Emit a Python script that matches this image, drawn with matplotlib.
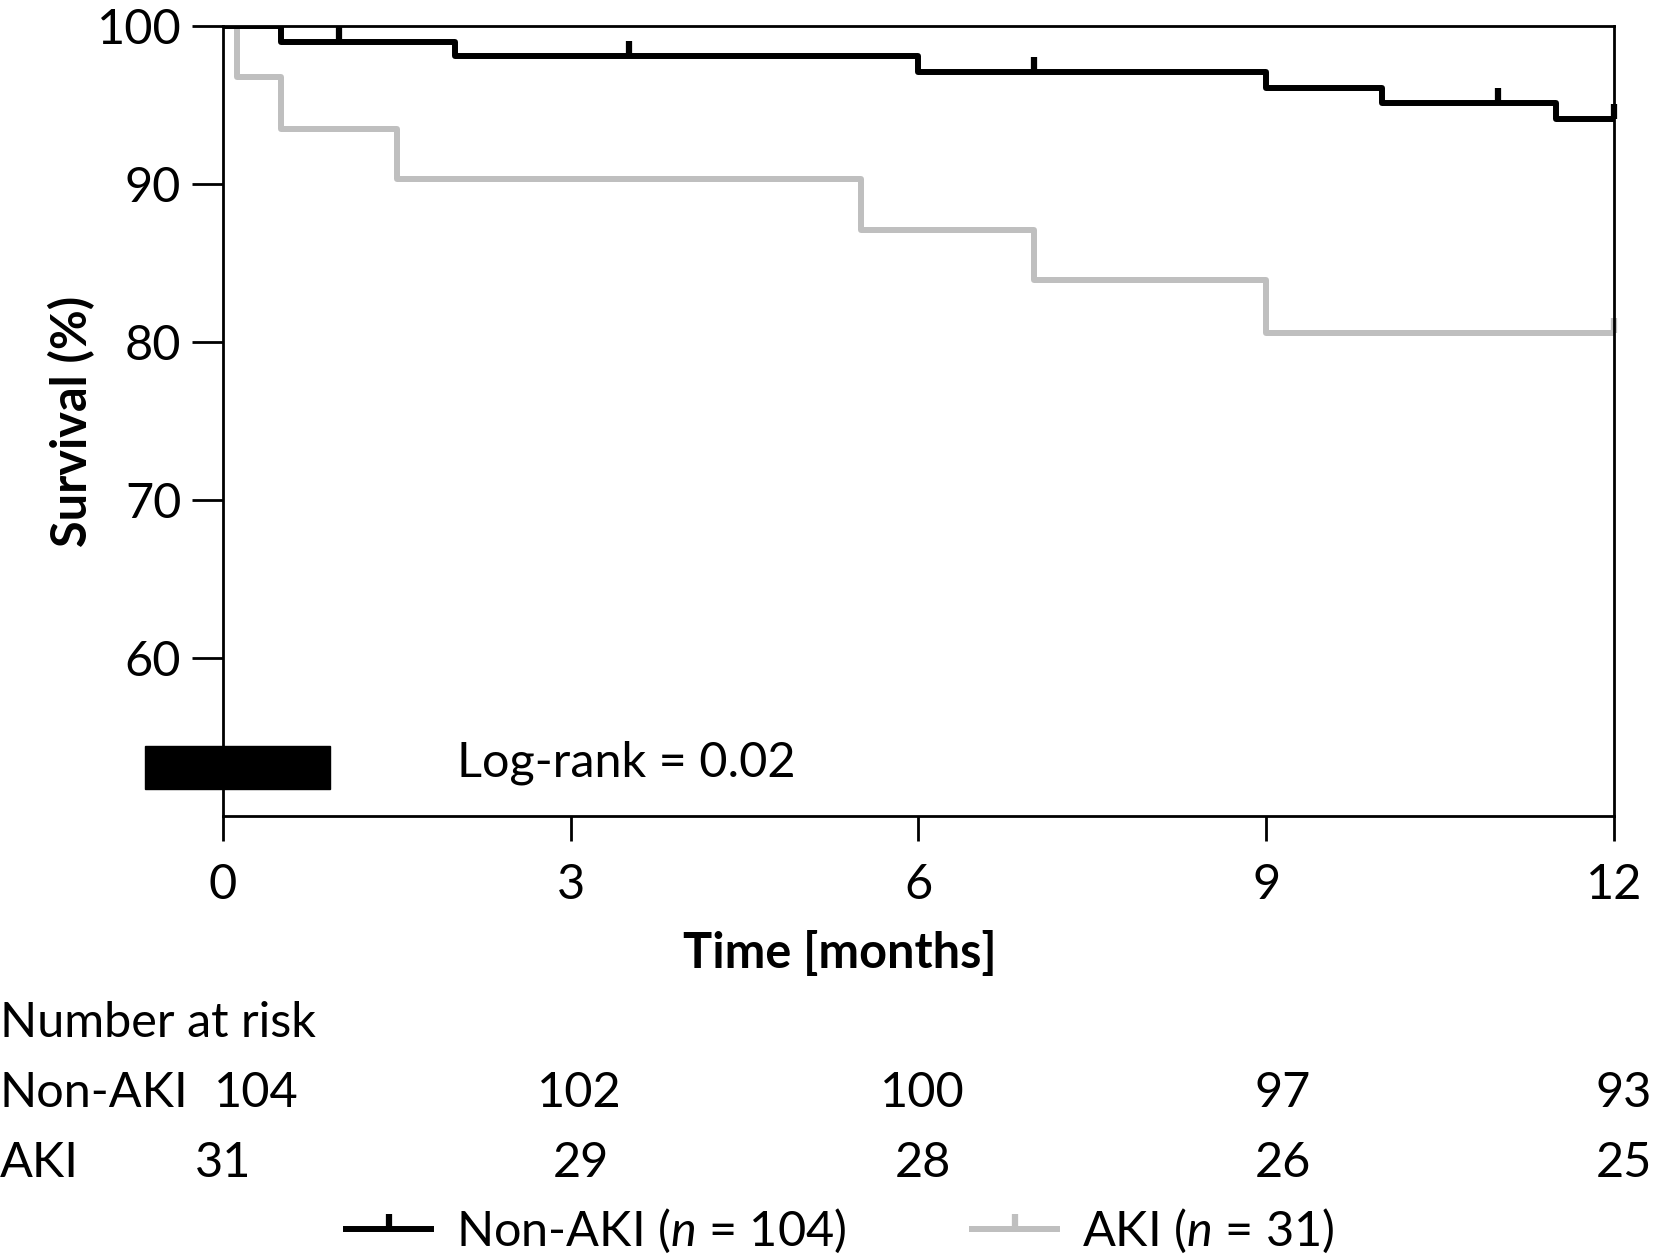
import matplotlib
matplotlib.use('Agg')
import matplotlib.pyplot as plt
import matplotlib.transforms as mtransforms
from matplotlib.lines import Line2D
from matplotlib.patches import Rectangle
from matplotlib.path import Path

plt.rcParams['font.family'] = ['Lato', 'DejaVu Sans']
plt.rcParams['mathtext.fontset'] = 'custom'
plt.rcParams['mathtext.rm'] = 'Lato'
plt.rcParams['mathtext.it'] = 'Lato:italic'

# Kaplan-Meier steps (months, survival %)
non_aki_times = [0, 0.5, 2.0, 6.0, 9.0, 10.0, 11.5, 12]
non_aki_surv = [100, 99.0, 98.1, 97.1, 96.1, 95.1, 94.1, 94.1]
non_aki_censor = [1.0, 3.5, 7.0, 11.0, 12.0]

aki_times = [0, 0.12, 0.5, 1.5, 5.5, 7.0, 9.0, 12]
aki_surv = [100, 96.8, 93.5, 90.3, 87.1, 83.9, 80.6, 80.6]
aki_censor = [12.0]

# number at risk table
risk_times = [0, 3, 6, 9, 12]
risk_non_aki = [104, 102, 100, 97, 93]
risk_aki = [31, 29, 28, 26, 25]

x_ticks = [0, 3, 6, 9, 12]
y_ticks = [60, 70, 80, 90, 100]

BLACK = 'black'
GREY = '#bfbfbf'
FS = 35

# upward tick used for censored observations
tick_mark = Path([(0, 0), (0, 1)], [Path.MOVETO, Path.LINETO])


def surv_at(times, surv, t):
    val = surv[0]
    for ti, si in zip(times, surv):
        if ti <= t:
            val = si
    return val


fig = plt.figure(figsize=(16.57, 12.59), dpi=100)
ax = fig.add_axes([0.1346, 0.3519, 0.8394, 0.6274])

ax.step(aki_times, aki_surv, where='post', color=GREY, lw=4.3, solid_capstyle='butt')
ax.plot(aki_censor, [surv_at(aki_times, aki_surv, t) for t in aki_censor],
        ls='none', marker=tick_mark, ms=22, mew=4.5, color=GREY, clip_on=False)

ax.step(non_aki_times, non_aki_surv, where='post', color=BLACK, lw=4.3, solid_capstyle='butt')
ax.plot(non_aki_censor, [surv_at(non_aki_times, non_aki_surv, t) for t in non_aki_censor],
        ls='none', marker=tick_mark, ms=22, mew=4.5, color=BLACK, clip_on=False)

# black box over the old legend area
ax.add_patch(Rectangle((-0.67, 51.7), 1.59, 2.7, color='black', clip_on=False))
ax.text(2.02, 53.35, 'Log-rank = 0.02', fontsize=FS, va='center', ha='left')

ax.set_xlim(0, 12)
ax.set_ylim(50, 100)
ax.set_xticks(x_ticks)
ax.set_yticks(y_ticks)
ax.tick_params(axis='both', labelsize=FS, width=2, length=18, direction='out')
ax.tick_params(axis='x', pad=16)
ax.tick_params(axis='y', length=22, pad=8)
for s in ax.spines.values():
    s.set_linewidth(2)

ax.set_ylabel('Survival (%)', fontsize=FS, fontweight='bold', va='center')
ax.yaxis.set_label_coords(-0.1086, 0.5)
ax.set_xlabel('Time [months]', fontsize=FS, fontweight='bold', va='center')
ax.xaxis.set_label_coords(0.4436, -0.1734)

# number at risk
trans = mtransforms.blended_transform_factory(ax.transData, fig.transFigure)
fig.text(0.0, 0.1875, 'Number at risk', fontsize=FS, va='center', ha='left')
fig.text(0.0, 0.1318, 'Non-AKI', fontsize=FS, va='center', ha='left')
fig.text(0.0, 0.0763, 'AKI', fontsize=FS, va='center', ha='left')
# small horizontal nudges (points) so the counts sit like in the original
shift_non_aki = [24, 6, 3, 12, 7]
shift_aki = [0, 7, 3, 12, 7]
for t, n, dx in zip(risk_times, risk_non_aki, shift_non_aki):
    tr = trans + mtransforms.ScaledTranslation(dx / 72, 0, fig.dpi_scale_trans)
    fig.text(t, 0.1318, str(n), fontsize=FS, va='center', ha='center', transform=tr)
for t, n, dx in zip(risk_times, risk_aki, shift_aki):
    tr = trans + mtransforms.ScaledTranslation(dx / 72, 0, fig.dpi_scale_trans)
    fig.text(t, 0.0763, str(n), fontsize=FS, va='center', ha='center', transform=tr)

handles = [
    Line2D([], [], color=BLACK, lw=4.3, marker=tick_mark, ms=22, mew=4.5),
    Line2D([], [], color=GREY, lw=4.3, marker=tick_mark, ms=22, mew=4.5),
]
labels = ['Non-AKI ($n$ = 104)', 'AKI ($n$ = 31)']
fig.legend(handles, labels, loc='center left', bbox_to_anchor=(0.209, 0.0222),
           ncol=2, frameon=False, fontsize=FS, handlelength=1.75, handletextpad=0.5,
           columnspacing=2.6, borderpad=0, borderaxespad=0, numpoints=1)

fig.savefig('out.png', dpi=100)
